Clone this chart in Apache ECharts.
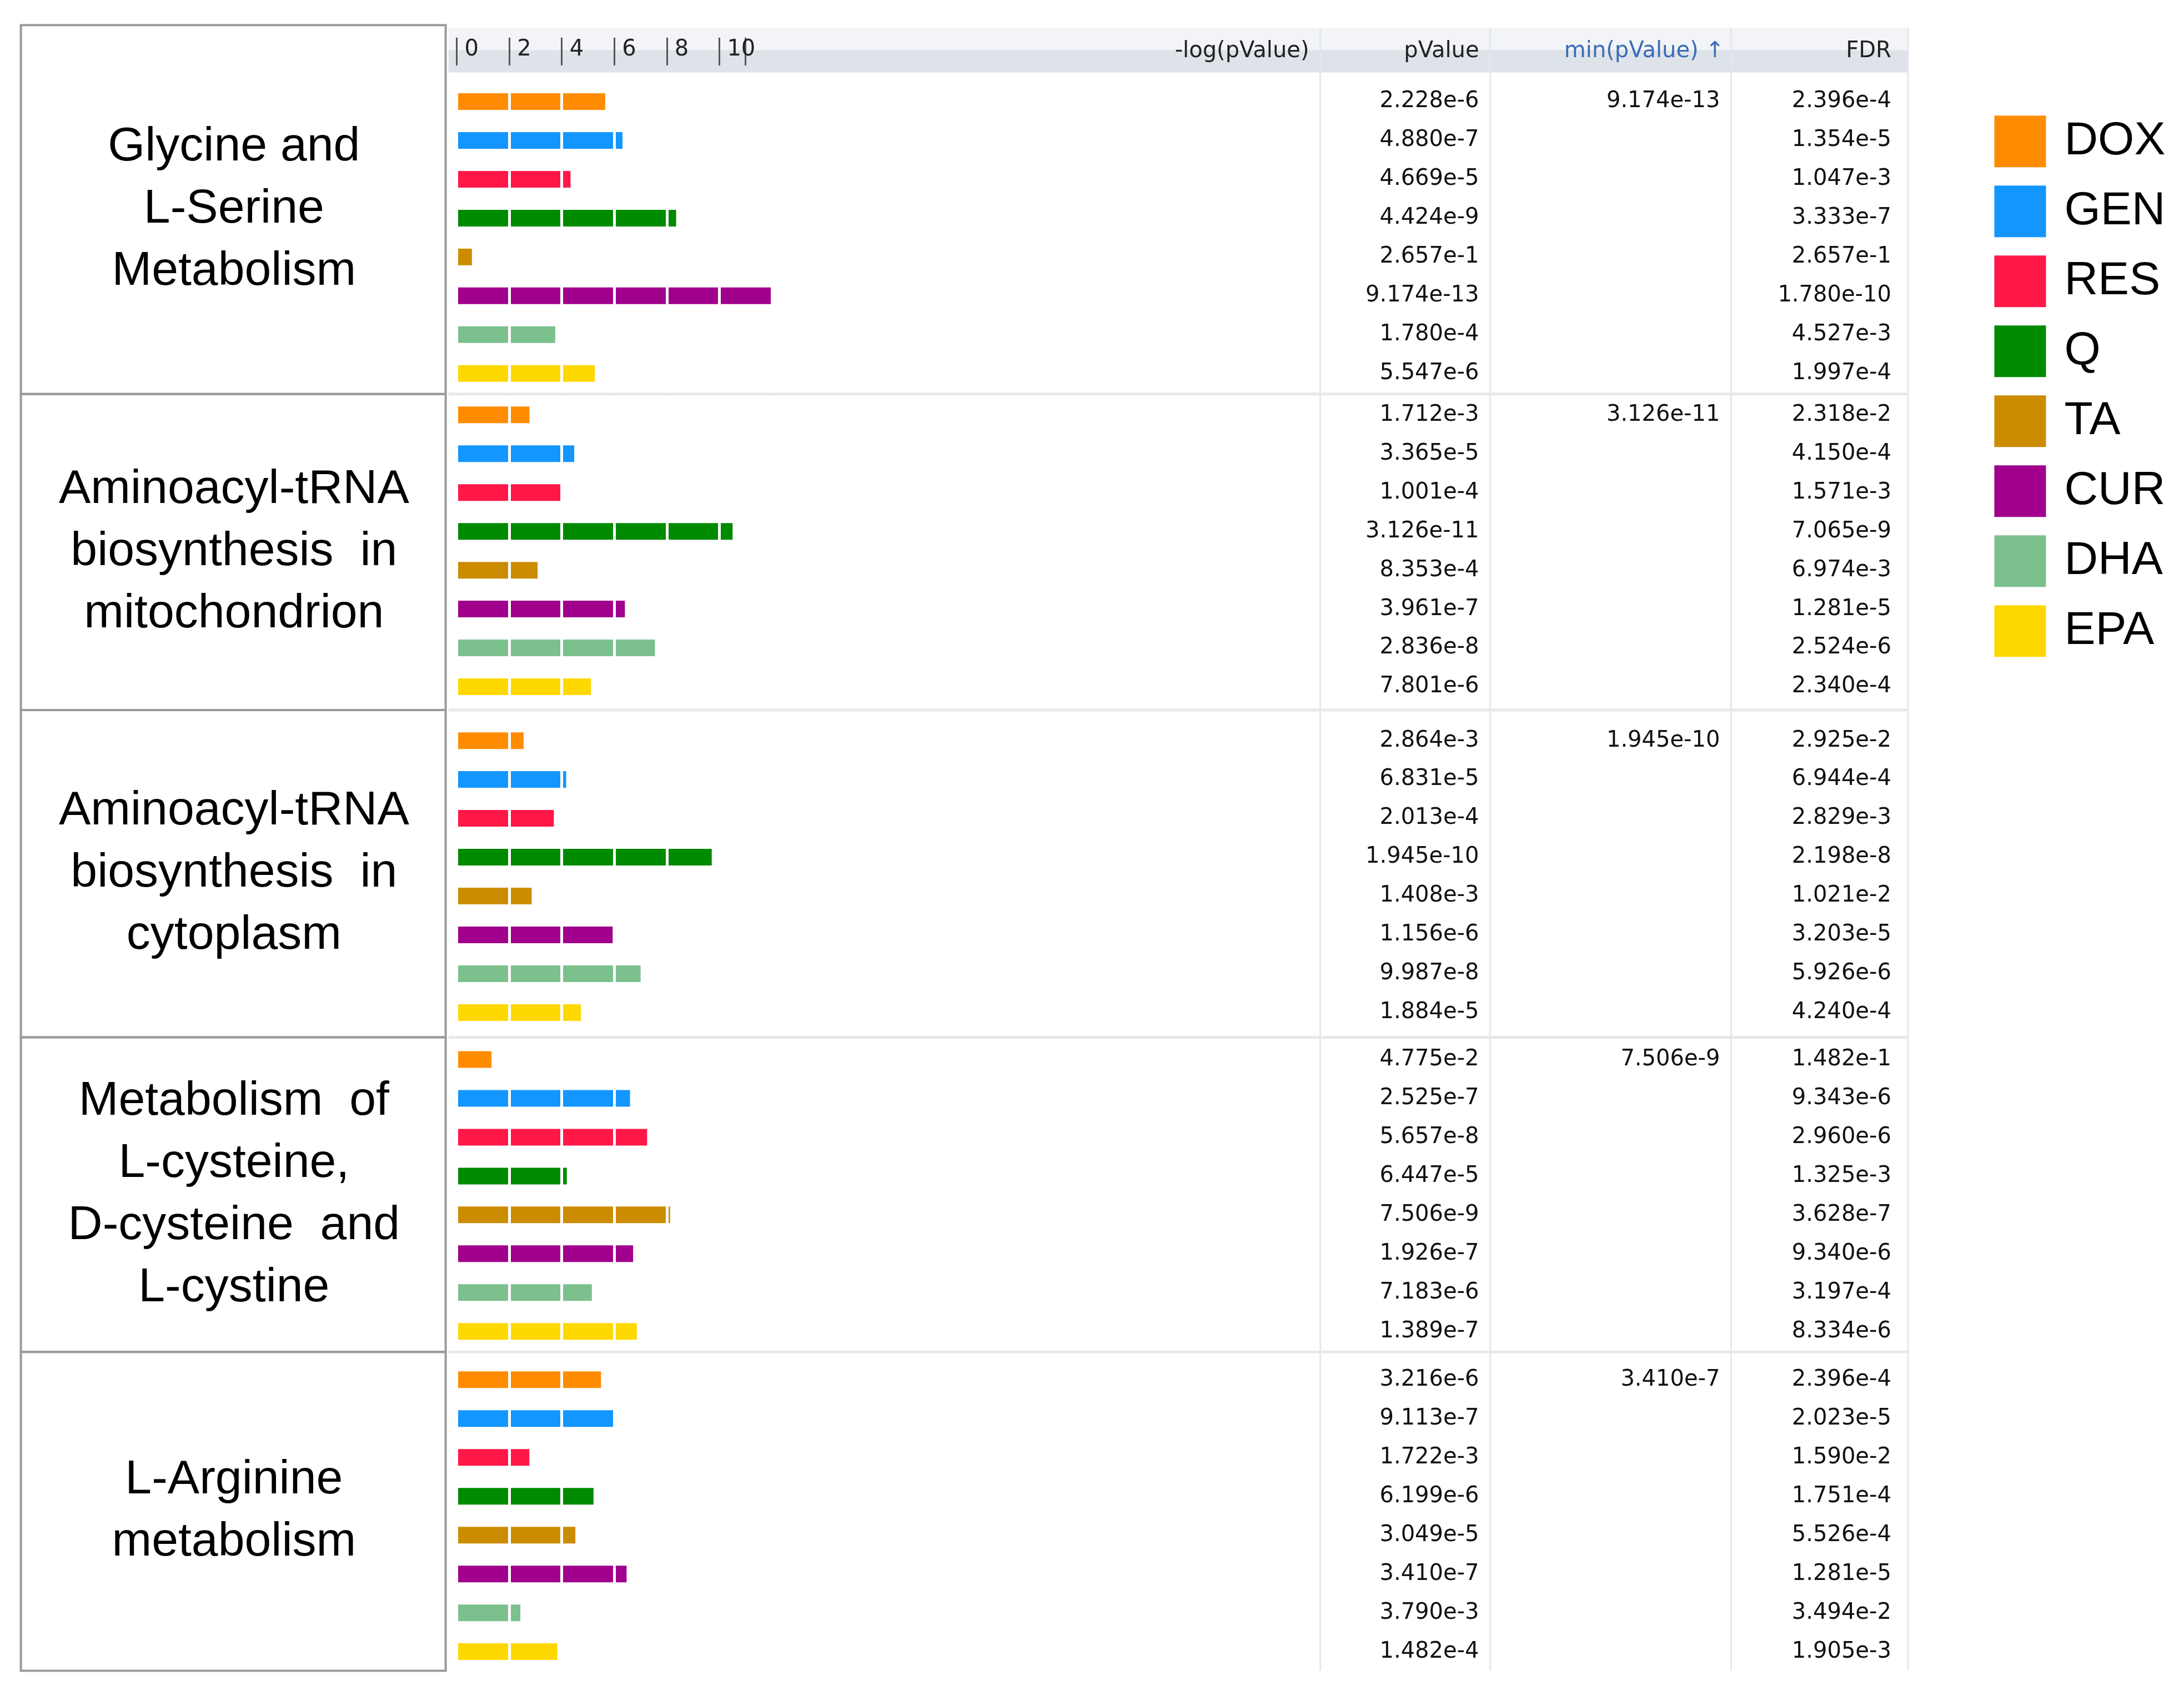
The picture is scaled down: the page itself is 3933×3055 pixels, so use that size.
<!DOCTYPE html>
<html>
<head>
<meta charset="utf-8">
<script src="https://cdn.jsdelivr.net/npm/echarts@6/dist/echarts.min.js"></script>
<style>html,body{margin:0;padding:0;background:#fff}#chart{width:3933px;height:3055px}</style>
</head>
<body>
<div id="chart"></div>
<script>
// drugs (one bar row each, per pathway)
var drugs = ['DOX', 'GEN', 'RES', 'Q', 'TA', 'CUR', 'DHA', 'EPA'];
var drugColors = ['#FF8C00', '#1496FF', '#FF1748', '#008A00', '#CC8C00', '#A0008C', '#7CC08E', '#FFD800'];

var pathways = [
    'Glycine and\nL-Serine\nMetabolism',
    'Aminoacyl-tRNA\nbiosynthesis  in\nmitochondrion',
    'Aminoacyl-tRNA\nbiosynthesis  in\ncytoplasm',
    'Metabolism  of\nL-cysteine,\nD-cysteine  and\nL-cystine',
    'L-Arginine\nmetabolism'
];

var pValue1 = ['2.228e-6', '4.880e-7', '4.669e-5', '4.424e-9', '2.657e-1', '9.174e-13', '1.780e-4', '5.547e-6'];
var pValue2 = ['1.712e-3', '3.365e-5', '1.001e-4', '3.126e-11', '8.353e-4', '3.961e-7', '2.836e-8', '7.801e-6'];
var pValue3 = ['2.864e-3', '6.831e-5', '2.013e-4', '1.945e-10', '1.408e-3', '1.156e-6', '9.987e-8', '1.884e-5'];
var pValue4 = ['4.775e-2', '2.525e-7', '5.657e-8', '6.447e-5', '7.506e-9', '1.926e-7', '7.183e-6', '1.389e-7'];
var pValue5 = ['3.216e-6', '9.113e-7', '1.722e-3', '6.199e-6', '3.049e-5', '3.410e-7', '3.790e-3', '1.482e-4'];

var minPValue = ['9.174e-13', '3.126e-11', '1.945e-10', '7.506e-9', '3.410e-7'];

var fdr1 = ['2.396e-4', '1.354e-5', '1.047e-3', '3.333e-7', '2.657e-1', '1.780e-10', '4.527e-3', '1.997e-4'];
var fdr2 = ['2.318e-2', '4.150e-4', '1.571e-3', '7.065e-9', '6.974e-3', '1.281e-5', '2.524e-6', '2.340e-4'];
var fdr3 = ['2.925e-2', '6.944e-4', '2.829e-3', '2.198e-8', '1.021e-2', '3.203e-5', '5.926e-6', '4.240e-4'];
var fdr4 = ['1.482e-1', '9.343e-6', '2.960e-6', '1.325e-3', '3.628e-7', '9.340e-6', '3.197e-4', '8.334e-6'];
var fdr5 = ['2.396e-4', '2.023e-5', '1.590e-2', '1.751e-4', '5.526e-4', '1.281e-5', '3.494e-2', '1.905e-3'];

var xMax = 15.5;
var headerMax = 11;

var pValues = [pValue1, pValue2, pValue3, pValue4, pValue5];
var fdrs = [fdr1, fdr2, fdr3, fdr4, fdr5];

var S = 2.508; // reference image scale
var gridTops = [59, 284, 518, 747, 977];
var rowH = 27.9;
var gridLeft = 328 * S;
var gridWidth = 3933 - 948 * S - gridLeft;
var tableFont = 'DejaVu Sans';

var grids = [], xAxes = [], yAxes = [], series = [], graphics = [];

// header strip
graphics.push({type: 'rect', shape: {x: 322 * S, y: 20 * S, width: 1048 * S, height: 16 * S}, style: {fill: '#F2F4F7'}, z: -2});
graphics.push({type: 'rect', shape: {x: 322 * S, y: 36 * S, width: 1048 * S, height: 16 * S}, style: {fill: '#DEE3EA'}, z: -2});
[948, 1070, 1243, 1370].forEach(function (x) {
    graphics.push({type: 'line', shape: {x1: x * S, y1: 20 * S, x2: x * S, y2: 1200 * S}, style: {stroke: '#E4E7EC', lineWidth: 3}, z: -1});
});
var hf = '40px "' + tableFont + '"';
graphics.push({type: 'text', style: {text: '-log(pValue)', x: 940 * S, y: 37 * S, align: 'right', verticalAlign: 'middle', font: hf, fill: '#222'}});
graphics.push({type: 'text', style: {text: 'pValue', x: 1062 * S, y: 37 * S, align: 'right', verticalAlign: 'middle', font: hf, fill: '#222'}});
graphics.push({type: 'text', style: {text: 'min(pValue) \u2191', x: 1238 * S, y: 37 * S, align: 'right', verticalAlign: 'middle', font: hf, fill: '#3A6CB5'}});
graphics.push({type: 'text', style: {text: 'FDR', x: 1358 * S, y: 37 * S, align: 'right', verticalAlign: 'middle', font: hf, fill: '#222'}});

var boxEdges = [18, 283, 510, 745, 971, 1200];
for (var g = 0; g < 5; g++) {
    grids.push({left: gridLeft, width: gridWidth, top: gridTops[g] * S, height: 8 * rowH * S});
    xAxes.push({
        gridIndex: g, type: 'value', min: 0, max: xMax, interval: 2, z: 5,
        axisLine: {show: false}, axisTick: {show: false}, axisLabel: {show: false},
        splitLine: {show: true, lineStyle: {color: '#fff', width: 5}}
    });
    var base = yAxes.length;
    yAxes.push({gridIndex: g, type: 'category', data: drugs.slice(), inverse: true,
        axisLine: {show: false}, axisTick: {show: false}, axisLabel: {show: false}});
    var cols = [
        {data: pValues[g], off: 1062},
        {data: [minPValue[g], '', '', '', '', '', '', ''], off: 1235},
        {data: fdrs[g], off: 1358}
    ];
    cols.forEach(function (c) {
        yAxes.push({gridIndex: g, type: 'category', data: c.data.map(function (v, i) { return v || ('_' + i); }),
            inverse: true, position: 'left', offset: -(c.off * S - gridLeft),
            axisLine: {show: false}, axisTick: {show: false}, splitLine: {show: false},
            axisLabel: {margin: 0, fontFamily: tableFont, fontSize: 40, color: '#111',
                formatter: function (v) { return v.charAt(0) === '_' ? '' : v; }}});
    });
    drugs.forEach(function (d, di) {
        var data = drugs.map(function (x, i) { return i === di ? -Math.log10(Number(pValues[g][i])) : '-'; });
        series.push({name: d, type: 'bar', xAxisIndex: g, yAxisIndex: base, stack: 'g' + g,
            barWidth: 30, data: data, itemStyle: {color: drugColors[di]}, silent: true});
    });

    graphics.push({type: 'rect', shape: {x: 15 * S, y: boxEdges[g] * S, width: 305 * S, height: (boxEdges[g + 1] - boxEdges[g]) * S},
        style: {fill: 'none', stroke: '#9A9A9A', lineWidth: 4}});
    graphics.push({type: 'text', style: {text: pathways[g], x: 168 * S, y: (boxEdges[g] + boxEdges[g + 1]) / 2 * S,
        align: 'center', verticalAlign: 'middle', font: '86px "Liberation Sans"', lineHeight: 112, fill: '#000'}});
    if (g > 0) {
        graphics.push({type: 'line', shape: {x1: 322 * S, y1: boxEdges[g] * S, x2: 1370 * S, y2: boxEdges[g] * S},
            style: {stroke: '#E6E8EC', lineWidth: 5}, z: -1});
    }
}

// header axis: ticks 0..10 inside the header strip
grids.push({left: gridLeft, width: gridWidth * headerMax / xMax, top: 27 * S, height: 20 * S});
xAxes.push({gridIndex: 5, type: 'value', min: 0, max: headerMax, interval: 2, position: 'bottom',
    axisLine: {show: false}, axisTick: {show: false}, splitLine: {show: true, lineStyle: {color: '#555', width: 3}},
    axisLabel: {inside: true, align: 'left', verticalAlign: 'bottom', margin: 8, padding: [0, 0, 0, 14],
        fontFamily: tableFont, fontSize: 40, color: '#222',
        formatter: function (v) { return v > 10 ? '' : String(v); }}});
yAxes.push({gridIndex: 5, type: 'value', show: false});

var myChart = echarts.init(document.getElementById('chart'));
var option = {
    animation: false,
    backgroundColor: '#fff',
    grid: grids,
    xAxis: xAxes,
    yAxis: yAxes,
    legend: {
        data: drugs, orient: 'vertical', left: 1430 * S, top: 81 * S,
        icon: 'rect', itemWidth: 93, itemHeight: 93, itemGap: 33,
        textStyle: {fontFamily: 'Liberation Sans', fontSize: 84, color: '#000', padding: [0, 0, 0, 28]}
    },
    graphic: graphics,
    series: series
};
myChart.setOption(option);
</script>
</body>
</html>
